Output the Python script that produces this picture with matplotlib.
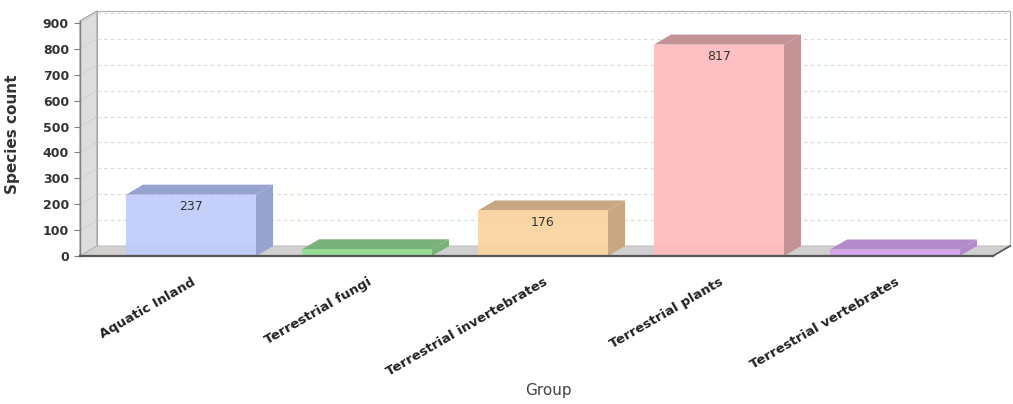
import matplotlib.pyplot as plt
from matplotlib.patches import Polygon

# Species counts per group
groups = ["Aquatic Inland", "Terrestrial fungi", "Terrestrial invertebrates",
          "Terrestrial plants", "Terrestrial vertebrates"]
counts = [237, 26, 176, 817, 25]
y_ticks = [0, 100, 200, 300, 400, 500, 600, 700, 800, 900]

front_colors = ["#c0cbfb", "#92dc92", "#fad39f", "#ffbbbe", "#d6a2f0"]
dark_colors = ["#96a2cf", "#7bb27b", "#c9a782", "#c39294", "#b38aca"]

W, H = 1013, 404
fig = plt.figure(figsize=(W / 100, H / 100), dpi=100)
ax = fig.add_axes([80 / W, 148 / H, 913 / W, 235 / H])

x0, x1 = -0.631, 4.557
y0, y1 = 0, 908
ax.set_xlim(x0, x1)
ax.set_ylim(y0, y1)

# 3D depth offset (17 px right, 10 px up) in data units
dx = 17 * (x1 - x0) / 913
dy = 10 * (y1 - y0) / 235
bar_w = 130 / 176

for s in ax.spines.values():
    s.set_visible(False)

def poly(pts, fc, ec="none", lw=0.0, z=1, alpha=1.0):
    p = Polygon(pts, closed=True, facecolor=fc, edgecolor=ec, lw=lw,
                zorder=z, alpha=alpha, clip_on=False)
    ax.add_patch(p)

# back wall outline
poly([(x0 + dx, dy), (x1 + dx, dy), (x1 + dx, y1 + dy), (x0 + dx, y1 + dy)],
     "white", ec="#b0b0b0", lw=0.8, z=0)
# left wall
poly([(x0, 0), (x0 + dx, dy), (x0 + dx, y1 + dy), (x0, y1)],
     "#dddddd", ec="#a0a0a0", lw=0.8, z=0.5)
# floor
poly([(x0, 0), (x1, 0), (x1 + dx, dy), (x0 + dx, dy)],
     "#d0d0d0", ec="#b8b8b8", lw=0.6, z=0.5)

# gridlines on back wall and left wall
for t in y_ticks[1:]:
    ax.plot([x0 + dx, x1 + dx], [t + dy, t + dy], color="#d8d8d8", lw=0.8,
            ls=(0, (3, 3)), zorder=0.6, clip_on=False)
    ax.plot([x0, x0 + dx], [t, t + dy], color="#c4c4c4", lw=0.6,
            ls=(0, (2, 2)), zorder=0.6, clip_on=False)

# front axis lines
ax.plot([x0, x0], [0, y1], color="#808080", lw=1.0, zorder=5, clip_on=False)
ax.plot([x0, x1], [0, 0], color="#555555", lw=1.6, zorder=5, clip_on=False)
ax.plot([x1, x1 + dx], [0, dy], color="#555555", lw=1.2, zorder=5, clip_on=False)

# bars with top and side faces
for i, (v, fc, dc) in enumerate(zip(counts, front_colors, dark_colors)):
    l, r = i - bar_w / 2, i + bar_w / 2
    poly([(r, 0), (r + dx, dy), (r + dx, v + dy), (r, v)], dc, z=2)
    poly([(l, v), (r, v), (r + dx, v + dy), (l + dx, v + dy)], dc, z=2)
    poly([(l, 0), (r, 0), (r, v), (l, v)], fc, z=3, alpha=0.92)
    if v > 100:
        ax.text(i, v - 46, str(v), ha="center", va="center", fontsize=9,
                color="#333333", zorder=6)

ax.set_yticks(y_ticks)
ax.set_yticklabels([str(t) for t in y_ticks], fontsize=9, fontweight="bold",
                   color="#333333")
ax.tick_params(axis="y", length=4, width=0.8, color="#808080", pad=4)

ax.set_xticks(range(len(groups)))
ax.set_xticklabels(groups, rotation=30, ha="right", va="top",
                   rotation_mode="anchor", fontsize=9.5, fontweight="bold",
                   color="#222222")
ax.tick_params(axis="x", length=0, pad=14)

ax.set_ylabel("Species count", fontsize=11, fontweight="bold", color="#333333")
ax.set_xlabel("Group", fontsize=11, color="#444444")
ax.xaxis.set_label_coords((548 - 80) / 913, -(398 - 256) / 235)
ax.xaxis.label.set_va("bottom")
ax.yaxis.set_label_coords(-(80 - 12) / 913, 0.52)
ax.yaxis.label.set_va("center")

fig.savefig("out.png", dpi=100)
